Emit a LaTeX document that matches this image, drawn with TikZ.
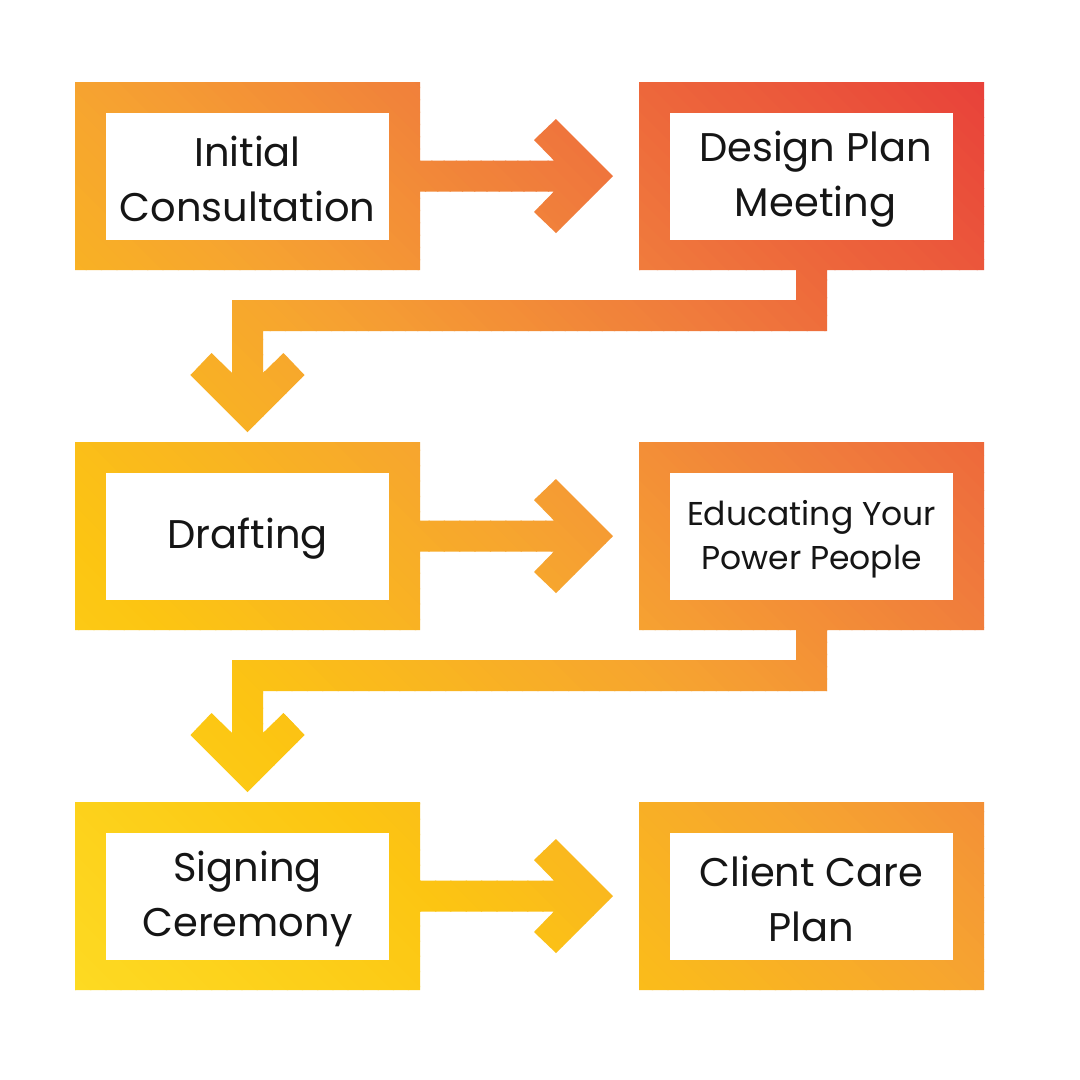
\documentclass[tikz,border=0pt]{standalone}
\usepackage{fontspec}
\setmainfont{Poppins}
\usetikzlibrary{calc}
\definecolor{g0}{HTML}{FDE22E}
\definecolor{g1}{HTML}{FDDA22}
\definecolor{g2}{HTML}{FCC512}
\definecolor{g3}{HTML}{F6A331}
\definecolor{g4}{HTML}{F07C3C}
\definecolor{g5}{HTML}{E8413A}
\definecolor{g6}{HTML}{E63A3A}
\definecolor{ink}{HTML}{151515}
\newcommand\gradseg[4]{%
 \foreach \k in {0,...,29}{%
  \pgfmathsetmacro\sa{#1+(#2-#1)*\k/30}%
  \pgfmathsetmacro\sb{#1+(#2-#1)*(\k+1)/30+1}%
  \pgfmathsetmacro\pc{(\k+0.5)*100/30}%
  \fill[#4!\pc!#3] (\sa-100,-100) -- (\sa+1200,1200) -- (\sb+1200,1200) -- (\sb-100,-100) -- cycle;
 }}
\tikzset{
  frame/.style={minimum width=345pt, minimum height=188pt, inner sep=0pt, outer sep=0pt},
  stepbox/.style={fill=white, minimum width=283pt, minimum height=127pt, inner sep=0pt,
     align=center, text=ink, font=\fontsize{40}{55}\selectfont},
  smallbox/.style={stepbox, font=\fontsize{33}{44}\selectfont},
  txt/.style={inner sep=0pt, align=center, text=ink, font=\fontsize{40}{55}\selectfont, yshift=-3pt}
}
\begin{document}
\begin{tikzpicture}[x=1pt,y=-1pt]
\useasboundingbox (0,0) rectangle (1080,1080);
\fill[white] (0,0) rectangle (1080,1080);
% frame geometry
\node[frame] (f1) at (247.5,176) {};
\node[frame] (f2) at (811.5,176) {};
\node[frame] (f3) at (247.5,536) {};
\node[frame] (f4) at (811.5,536) {};
\node[frame] (f5) at (247.5,896) {};
\node[frame] (f6) at (811.5,896) {};
\begin{scope}
\clip
 (f1.north west) -- (f1.north east) -- (f1.south east) -- (f1.south west) -- cycle
 (f2.north west) -- (f2.north east) -- (f2.south east) -- (f2.south west) -- cycle
 (f3.north west) -- (f3.north east) -- (f3.south east) -- (f3.south west) -- cycle
 (f4.north west) -- (f4.north east) -- (f4.south east) -- (f4.south west) -- cycle
 (f5.north west) -- (f5.north east) -- (f5.south east) -- (f5.south west) -- cycle
 (f6.north west) -- (f6.north east) -- (f6.south east) -- (f6.south west) -- cycle
 % right arrow f1 -> f2
 ($(f1.east)+(-2,-15.5)$) -- ($(f1.east)+(150,-15.5)$) -- ($(f1.east)+(150,15.5)$) -- ($(f1.east)+(-2,15.5)$) -- cycle
 ($(f2.west)+(-83,-57)$) -- ($(f2.west)+(-26,0)$) -- ($(f2.west)+(-83,57)$) -- ($(f2.west)+(-105,36)$) -- ($(f2.west)+(-70,0)$) -- ($(f2.west)+(-105,-36)$) -- cycle
 % right arrow f3 -> f4
 ($(f3.east)+(-2,-15.5)$) -- ($(f3.east)+(150,-15.5)$) -- ($(f3.east)+(150,15.5)$) -- ($(f3.east)+(-2,15.5)$) -- cycle
 ($(f4.west)+(-83,-57)$) -- ($(f4.west)+(-26,0)$) -- ($(f4.west)+(-83,57)$) -- ($(f4.west)+(-105,36)$) -- ($(f4.west)+(-70,0)$) -- ($(f4.west)+(-105,-36)$) -- cycle
 % right arrow f5 -> f6
 ($(f5.east)+(-2,-15.5)$) -- ($(f5.east)+(150,-15.5)$) -- ($(f5.east)+(150,15.5)$) -- ($(f5.east)+(-2,15.5)$) -- cycle
 ($(f6.west)+(-83,-57)$) -- ($(f6.west)+(-26,0)$) -- ($(f6.west)+(-83,57)$) -- ($(f6.west)+(-105,36)$) -- ($(f6.west)+(-70,0)$) -- ($(f6.west)+(-105,-36)$) -- cycle
 % elbow f2 -> f3
 ($(f2.south)+(-15.5,-2)$) -- ($(f2.south)+(15.5,-2)$) -- ($(f2.south)+(15.5,61)$) -- ($(f3.north)+(15.5,-111)$) -- ($(f3.north)+(15.5,-47)$) -- ($(f3.north)+(-15.5,-47)$) -- ($(f3.north)+(-15.5,-142)$) -- ($(f2.south)+(-15.5,30)$) -- cycle
 ($(f3.north)+(57,-67)$) -- ($(f3.north)+(0,-10)$) -- ($(f3.north)+(-57,-67)$) -- ($(f3.north)+(-36,-89)$) -- ($(f3.north)+(0,-54)$) -- ($(f3.north)+(36,-89)$) -- cycle
 % elbow f4 -> f5
 ($(f4.south)+(-15.5,-2)$) -- ($(f4.south)+(15.5,-2)$) -- ($(f4.south)+(15.5,61)$) -- ($(f5.north)+(15.5,-111)$) -- ($(f5.north)+(15.5,-47)$) -- ($(f5.north)+(-15.5,-47)$) -- ($(f5.north)+(-15.5,-142)$) -- ($(f4.south)+(-15.5,30)$) -- cycle
 ($(f5.north)+(57,-67)$) -- ($(f5.north)+(0,-10)$) -- ($(f5.north)+(-57,-67)$) -- ($(f5.north)+(-36,-89)$) -- ($(f5.north)+(0,-54)$) -- ($(f5.north)+(36,-89)$) -- cycle;
\gradseg{-1200}{-915}{g0}{g1}
\gradseg{-915}{-461}{g1}{g2}
\gradseg{-461}{0}{g2}{g3}
\gradseg{0}{369}{g3}{g4}
\gradseg{369}{902}{g4}{g5}
\gradseg{902}{1200}{g5}{g6}
\end{scope}
% white boxes
\node[stepbox] (w1) at (f1) {};
\node[stepbox] (w2) at (f2) {};
\node[stepbox] (w3) at (f3) {};
\node[stepbox] (w4) at (f4) {};
\node[stepbox] (w5) at (f5) {};
\node[stepbox] (w6) at (f6) {};
% texts
\node[txt] (t1) at (w1) {Initial\\Consultation};
\node[txt, xshift=4pt] (t2) at (w2) {Design Plan\\Meeting};
\node[txt] (t3) at (w3) {Drafting};
\node[txt, font=\fontsize{33}{44}\selectfont] (t4) at (w4) {Educating Your\\Power People};
\node[txt] (t5) at (w5) {Signing\\Ceremony};
\node[txt] (t6) at (w6) {Client Care\\Plan};
\end{tikzpicture}
\end{document}
